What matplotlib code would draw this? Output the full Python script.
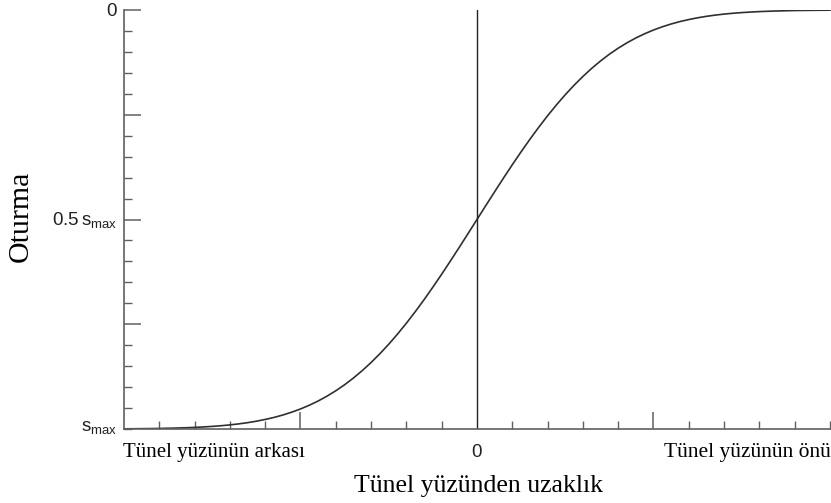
import matplotlib
matplotlib.use("Agg")
import matplotlib.pyplot as plt
from matplotlib.ticker import FixedLocator, MultipleLocator

# Distance from tunnel face (arbitrary units) and normalised settlement s/s_max
distance = [-10, -9.75, -9.5, -9.25, -9, -8.75, -8.5, -8.25, -8, -7.75, -7.5, -7.25, -7, -6.75,
            -6.5, -6.25, -6, -5.75, -5.5, -5.25, -5, -4.75, -4.5, -4.25, -4, -3.75, -3.5, -3.25,
            -3, -2.75, -2.5, -2.25, -2, -1.75, -1.5, -1.25, -1, -0.75, -0.5, -0.25,
            0, 0.25, 0.5, 0.75, 1, 1.25, 1.5, 1.75, 2, 2.25, 2.5, 2.75, 3, 3.25, 3.5, 3.75,
            4, 4.25, 4.5, 4.75, 5, 5.25, 5.5, 5.75, 6, 6.25, 6.5, 6.75, 7, 7.25, 7.5, 7.75,
            8, 8.25, 8.5, 8.75, 9, 9.25, 9.5, 9.75, 10]
settlement = [0.9996, 0.9994, 0.9992, 0.9990, 0.9987, 0.9982, 0.9977, 0.9970, 0.9962, 0.9951,
              0.9938, 0.9922, 0.9902, 0.9878, 0.9849, 0.9814, 0.9772, 0.9724, 0.9666, 0.9599,
              0.9522, 0.9433, 0.9332, 0.9217, 0.9088, 0.8944, 0.8783, 0.8607, 0.8413, 0.8203,
              0.7977, 0.7734, 0.7475, 0.7202, 0.6915, 0.6615, 0.6306, 0.5987, 0.5662, 0.5332,
              0.5, 0.4668, 0.4338, 0.4013, 0.3694, 0.3385, 0.3085, 0.2798, 0.2525, 0.2266,
              0.2023, 0.1797, 0.1587, 0.1393, 0.1217, 0.1056, 0.0912, 0.0783, 0.0668, 0.0567,
              0.0478, 0.0401, 0.0334, 0.0276, 0.0228, 0.0186, 0.0151, 0.0122, 0.0098, 0.0078,
              0.0062, 0.0049, 0.0038, 0.0030, 0.0023, 0.0018, 0.0013, 0.0010, 0.0008, 0.0006,
              0.0004]

ytick_pos = [0, 0.5, 1.0]
ytick_labels = ["0", r"$\mathregular{0.5\,s_{max}}$", r"$\mathregular{s_{max}}$"]
xlabel_left = "Tünel yüzünün arkası"
xlabel_right = "Tünel yüzünün önü"
xlabel = "Tünel yüzünden uzaklık"
ylabel = "Oturma"

W, H = 831, 503
fig = plt.figure(figsize=(W / 100, H / 100), dpi=100)
ax = fig.add_axes([124 / W, 1 - 429 / H, (831 - 124) / W, (429 - 10) / H])

spine_col = "#606060"
ax.plot(distance, settlement, color="#303030", lw=1.2, solid_joinstyle="round")
ax.axvline(0, color="#222222", lw=1.0)

ax.set_xlim(-10, 10.03)
ax.set_ylim(1.0, 0.0)

for s in ["top", "right"]:
    ax.spines[s].set_visible(False)
for s in ["left", "bottom"]:
    ax.spines[s].set_color(spine_col)
    ax.spines[s].set_linewidth(1.2)

# y ticks
ax.yaxis.set_major_locator(FixedLocator([0, 0.25, 0.5, 0.75]))
ax.yaxis.set_minor_locator(MultipleLocator(0.05))
ax.set_yticklabels([])
ax.tick_params(axis="y", which="major", direction="in", length=12, width=1.1, color=spine_col)
ax.tick_params(axis="y", which="minor", direction="in", length=6, width=1.0, color=spine_col)

# x ticks
ax.xaxis.set_major_locator(FixedLocator([-5, 5]))
ax.xaxis.set_minor_locator(FixedLocator([v for v in range(-9, 11) if v not in (-5, 0, 5)]))
ax.set_xticklabels([])
ax.tick_params(axis="x", which="major", direction="in", length=12, width=1.1, color=spine_col)
ax.tick_params(axis="x", which="minor", direction="in", length=6, width=1.0, color=spine_col)

sans = ["Liberation Sans", "DejaVu Sans"]
serif = ["Liberation Serif", "DejaVu Serif"]

ytr = ax.get_yaxis_transform()
offsets = [0.004, 0.0, -0.004]
for pos, lab, off in zip(ytick_pos, ytick_labels, offsets):
    ax.text(-0.010, pos + off, lab, transform=ytr, ha="right", va="center",
            fontsize=13.5, family=sans, color="#222222")

xtr = ax.get_xaxis_transform()
ax.text(0, -0.055, "0", transform=xtr, ha="center", va="center", fontsize=13.5,
        family=sans, color="#222222")
ax.text(-10.03, -0.055, xlabel_left, transform=xtr, ha="left", va="center",
        fontsize=15, family=serif)
ax.text(1.0, -0.055, xlabel_right, transform=ax.transAxes, ha="right", va="center",
        fontsize=15.5, family=serif)

fig.text(478 / W, 1 - 486 / H, xlabel, ha="center", va="center", fontsize=18.5, family=serif)
fig.text(21 / W, 1 - 216 / H, ylabel, ha="center", va="center", rotation=90,
         fontsize=21.5, family=serif)

fig.savefig("out.png", dpi=100)
